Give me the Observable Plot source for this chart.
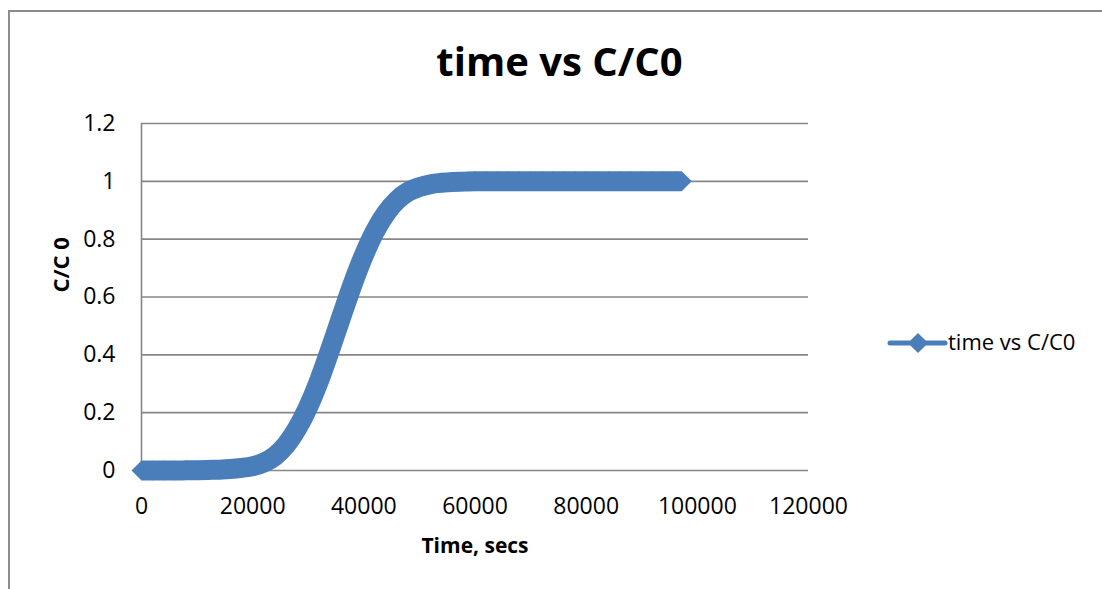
<!DOCTYPE html>
<html>
<head>
<meta charset="utf-8">
<script src="https://cdn.jsdelivr.net/npm/d3@7"></script>
<script src="https://cdn.jsdelivr.net/npm/@observablehq/plot@0.6"></script>
<style>
  html, body { margin: 0; padding: 0; background: #fff; }
  #chart { position: relative; width: 1102px; height: 589px; overflow: hidden; font-family: "Open Sans", sans-serif; }
  #chart > svg.plot { position: absolute; left: 0; top: 0; }
  #border { position: absolute; left: 8px; top: 10px; width: 1200px; height: 700px;
            border-top: 2px solid #8c8c8c; border-left: 2px solid #8c8c8c; box-sizing: border-box; }
  #legend { position: absolute; left: 884px; top: 326px; }
</style>
</head>
<body>
<div id="chart"><div id="border"></div></div>
<script>
// Breakthrough curve: elapsed time (s) and normalised concentration C/C0
const timeSecs = [
  0, 2000, 4000, 6000, 8000, 10000, 12000, 14000, 16000, 18000,
  20000, 22000, 24000, 26000, 28000, 30000, 32000, 34000, 36000, 38000,
  40000, 42000, 44000, 46000, 48000, 50000, 52000, 54000, 56000, 58000,
  60000, 62000, 64000, 66000, 68000, 70000, 72000, 74000, 76000, 78000,
  80000, 82000, 84000, 86000, 88000, 90000, 92000, 94000, 96000, 97200
];
const cOverC0 = [
  0, 0, 0, 0, 0.0005, 0.001, 0.002, 0.003, 0.005, 0.009,
  0.015, 0.027, 0.05, 0.088, 0.145, 0.22, 0.313, 0.421, 0.534, 0.645,
  0.744, 0.827, 0.89, 0.935, 0.964, 0.98, 0.99, 0.995, 0.998, 0.999,
  1, 1, 1, 1, 1, 1, 1, 1, 1, 1,
  1, 1, 1, 1, 1, 1, 1, 1, 1, 1
];
const xTicks = [0, 20000, 40000, 60000, 80000, 100000, 120000];
const yTicks = [0, 0.2, 0.4, 0.6, 0.8, 1, 1.2];

const seriesName = "time vs C/C0";
const chartTitle = "time vs C/C0";
const xTitle = "Time, secs";
const yTitle = "C/C 0";

const blue = "#4a7ebb";
const gridGray = "#868686";

const rows = timeSecs.map((t, i) => ({t, c: cOverC0[i]}));

const plot = Plot.plot({
  width: 1102,
  height: 589,
  marginLeft: 141,
  marginRight: 294,
  marginTop: 123,
  marginBottom: 119,
  style: {fontFamily: "Open Sans", fontSize: "23px", color: "#000", background: "transparent", overflow: "visible"},
  x: {domain: [0, 120000], ticks: xTicks, tickFormat: d => String(d), label: null},
  y: {domain: [0, 1.2], ticks: yTicks, tickFormat: d => String(+d.toFixed(1)), label: null},
  marks: [
    Plot.gridY(yTicks, {stroke: gridGray, strokeOpacity: 1, strokeWidth: 1.6}),
    Plot.ruleX([0], {stroke: gridGray, strokeWidth: 1.6}),
    Plot.axisX({ticks: xTicks, tickSize: 0, tickPadding: 27, tickFormat: d => String(d), fill: "#000"}),
    Plot.axisY({ticks: yTicks, tickSize: 0, tickPadding: 26, tickFormat: d => String(+d.toFixed(1)), fill: "#000"}),
    // dense markers merge into a thick band; butt caps let the end diamonds show their points
    Plot.line(rows, {x: "t", y: "c", stroke: blue, strokeWidth: 20, strokeLinejoin: "round", strokeLinecap: "butt", curve: "monotone-x"}),
    Plot.dot(rows, {x: "t", y: "c", symbol: "diamond2", r: 9, fill: blue, stroke: "none"}),
    Plot.text([chartTitle], {text: d => d, frameAnchor: "top", lineAnchor: "bottom", dx: 84.5, dy: -48,
      fontSize: 40, fontWeight: "bold", fill: "#000"}),
    Plot.text([xTitle], {text: d => d, frameAnchor: "bottom", lineAnchor: "bottom", dy: 82,
      fontSize: 21, fontWeight: "bold", fill: "#000"}),
    Plot.text([yTitle], {text: d => d, frameAnchor: "left", lineAnchor: "bottom", rotate: -90, dx: -73, dy: -4.5,
      fontSize: 22, fontWeight: "bold", fill: "#000"})
  ]
});
document.getElementById("chart").appendChild(plot);

// Legend: line-with-diamond swatch and series name
const legend = d3.select("#chart").append("svg")
  .attr("id", "legend")
  .attr("width", 210)
  .attr("height", 34);
legend.append("line")
  .attr("x1", 6).attr("x2", 61).attr("y1", 17).attr("y2", 17)
  .attr("stroke", blue).attr("stroke-width", 5).attr("stroke-linecap", "round");
legend.append("path")
  .attr("d", d3.symbol(d3.symbolDiamond2, 260)())
  .attr("transform", "translate(34,17)")
  .attr("fill", blue);
legend.append("text")
  .attr("x", 64).attr("y", 24)
  .attr("font-family", "Open Sans").attr("font-size", 22)
  .attr("fill", "#000")
  .text(seriesName);
</script>
</body>
</html>
